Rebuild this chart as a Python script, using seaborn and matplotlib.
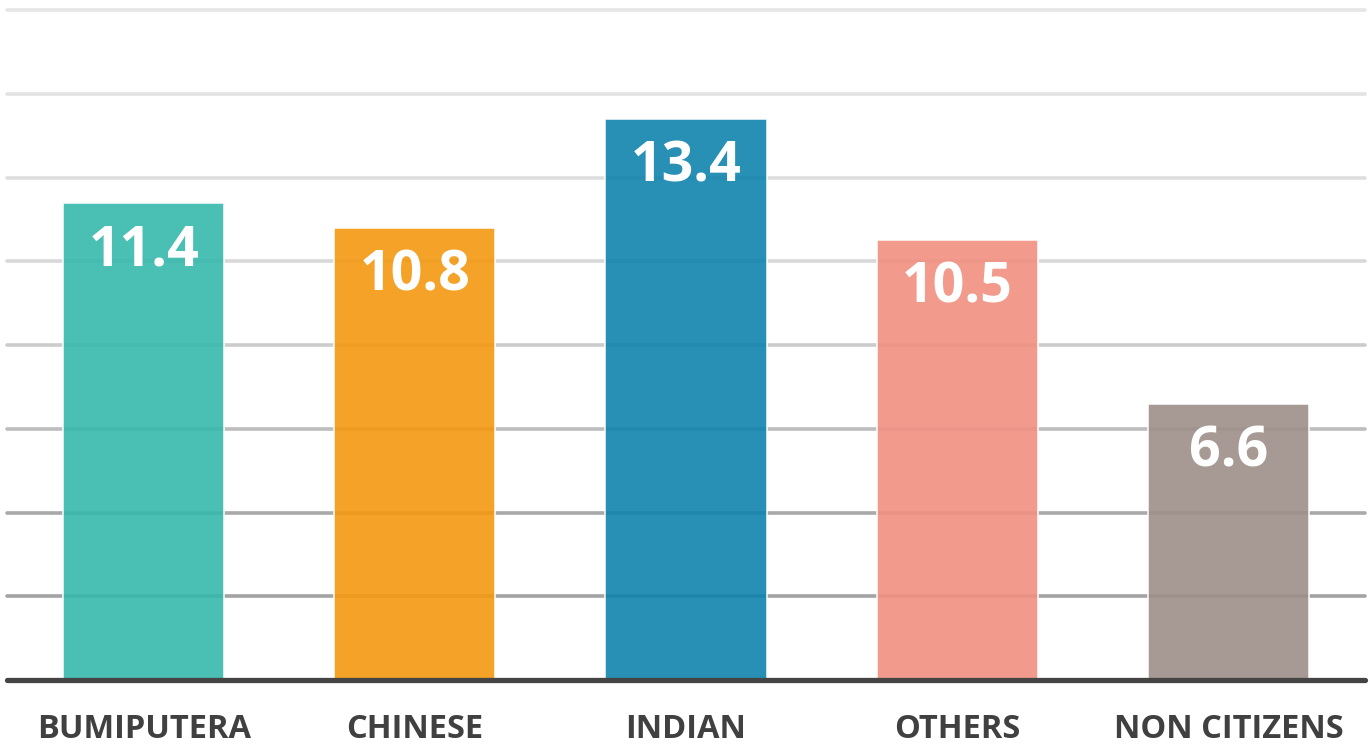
import numpy as np
import pandas as pd
import matplotlib.pyplot as plt
import seaborn as sns
from matplotlib.colors import to_rgb

categories = ["BUMIPUTERA", "CHINESE", "INDIAN", "OTHERS", "NON CITIZENS"]
values = [11.4, 10.8, 13.4, 10.5, 6.6]
value_labels = ["11.4", "10.8", "13.4", "10.5", "6.6"]
bar_colors = ["#4abfb3", "#f4a328", "#288fb5", "#f29b8e", "#a89a95"]
grid_levels = [2, 4, 6, 8, 10, 12, 14, 16]
grid_colors = ["#a3a3a3", "#a9a9a9", "#bdbdbd", "#cccccc", "#d8d8d8", "#dedede", "#e3e3e3", "#e6e6e6"]

BAR_ALPHA = 0.9

# colour before blending so the bar looks right on white
def pre_blend(c, a=BAR_ALPHA):
    rgb = np.array(to_rgb(c))
    return tuple(np.clip((rgb - (1 - a)) / a, 0, 1))

df = pd.DataFrame({"category": categories, "value": values})

sns.set_theme(style="white")
plt.rcParams['font.family'] = ['Open Sans', 'DejaVu Sans']

fig = plt.figure(figsize=(13.7, 7.44), dpi=100)
ax = fig.add_axes([7 / 1370, 64 / 744, 1358 / 1370, 670 / 744])

for lvl, gc in zip(grid_levels, grid_colors):
    ax.axhline(lvl, color=gc, lw=2.6, zorder=0, clip_on=False)

sns.barplot(data=df, x="category", y="value", hue="category",
            palette=[pre_blend(c) for c in bar_colors], width=0.594,
            saturation=1, alpha=BAR_ALPHA, legend=False, ax=ax, zorder=2,
            edgecolor=(1, 1, 1, 0.35), linewidth=1.2)

for i, (v, lab) in enumerate(zip(values, value_labels)):
    ax.text(i, v - 1.15, lab, ha="center", va="center", color="white",
            fontsize=40, fontweight="bold", zorder=4)

ax.axhline(0, color="#444444", lw=3.8, zorder=5, clip_on=False)

ax.set_xlim(-0.504, 4.504)
ax.set_ylim(0, 16)
ax.set_xlabel("")
ax.set_ylabel("")
ax.set_yticks([])
ax.tick_params(axis="x", length=0, pad=24)
ax.set_xticks(range(len(categories)))
ax.set_xticklabels(categories, fontsize=23.5, fontweight="bold", color="#404040")
for s in ax.spines.values():
    s.set_visible(False)

fig.savefig("out.png", dpi=100, facecolor="white")
